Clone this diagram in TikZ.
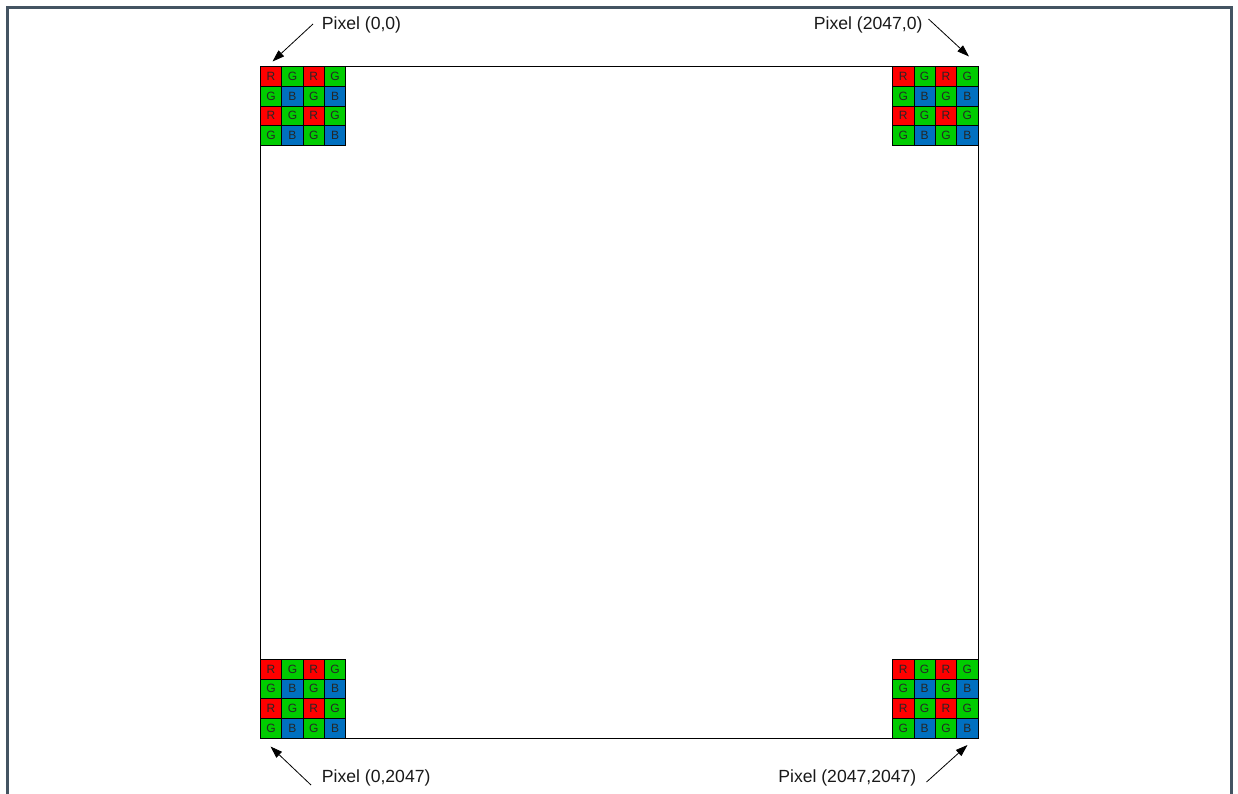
\documentclass[tikz,border=0pt]{standalone}
\usepackage{fontspec}
\setmainfont{Liberation Sans}
\usetikzlibrary{arrows.meta}
\definecolor{frameclr}{RGB}{68,84,98}
\definecolor{bayerR}{RGB}{255,0,0}
\definecolor{bayerG}{RGB}{0,204,0}
\definecolor{bayerB}{RGB}{0,112,192}
\tikzset{
  cellbase/.style={draw=black, line width=0.8pt, inner sep=0pt, anchor=north west,
    minimum width=21.35pt, minimum height=19.75pt, font=\fontsize{12}{13}\selectfont, text=black!85},
  cell0/.style={cellbase, fill=bayerR},
  cell1/.style={cellbase, fill=bayerG},
  cell2/.style={cellbase, fill=bayerG},
  cell3/.style={cellbase, fill=bayerB},
  lbl/.style={font=\fontsize{17.6}{20}\selectfont, text=black!90, inner sep=0pt},
  arr/.style={line width=0.8pt, -{Triangle[length=12pt,width=8pt]}},
  frame/.style={draw=frameclr, line width=3pt},
}
\begin{document}
\begin{tikzpicture}[x=1pt,y=-1pt]
\useasboundingbox (0,0) rectangle (1238,793);
\fill[white] (0,0) rectangle (1238,793);
\draw[frame] (7.5,810) -- (7.5,7.5) -- (1231.5,7.5) -- (1231.5,810);
\node[draw=black, line width=0.9pt, anchor=north west, inner sep=0pt,
  minimum width=717.6pt, minimum height=672.2pt] (sensor) at (260,66) {};
\foreach \gx/\gy/\gn in {260/66/tl, 892.2/66/tr, 260/658.8/bl, 892.2/658.8/br} {
  \foreach \r in {0,...,3} {
    \foreach \c in {0,...,3} {
      \pgfmathtruncatemacro\k{mod(\r,2)*2+mod(\c,2)}
      \node[cell\k] (\gn-\r-\c) at (\gx+\c*21.35, \gy+\r*19.75) {\ifcase\k R\or G\or G\or B\fi};
    }
  }
}
\node[lbl, anchor=west] (ltl) at (321.7,24.5) {Pixel (0,0)};
\node[lbl, anchor=east] (ltr) at (922.7,24.5) {Pixel (2047,0)};
\node[lbl, anchor=west] (lbl) at (321.7,778) {Pixel (0,2047)};
\node[lbl, anchor=east] (lbr) at (916.5,778) {Pixel (2047,2047)};
\coordinate (stl) at (313,24);
\coordinate (etl) at (272.5,61.5);
\coordinate (str) at (928.5,19);
\coordinate (etr) at (969,56.5);
\coordinate (sbl) at (311,785);
\coordinate (ebl) at (270.5,746.5);
\coordinate (sbr) at (926.5,782);
\coordinate (ebr) at (967.5,745);
\draw[arr] (stl) -- (etl);
\draw[arr] (str) -- (etr);
\draw[arr] (sbl) -- (ebl);
\draw[arr] (sbr) -- (ebr);
\end{tikzpicture}
\end{document}
